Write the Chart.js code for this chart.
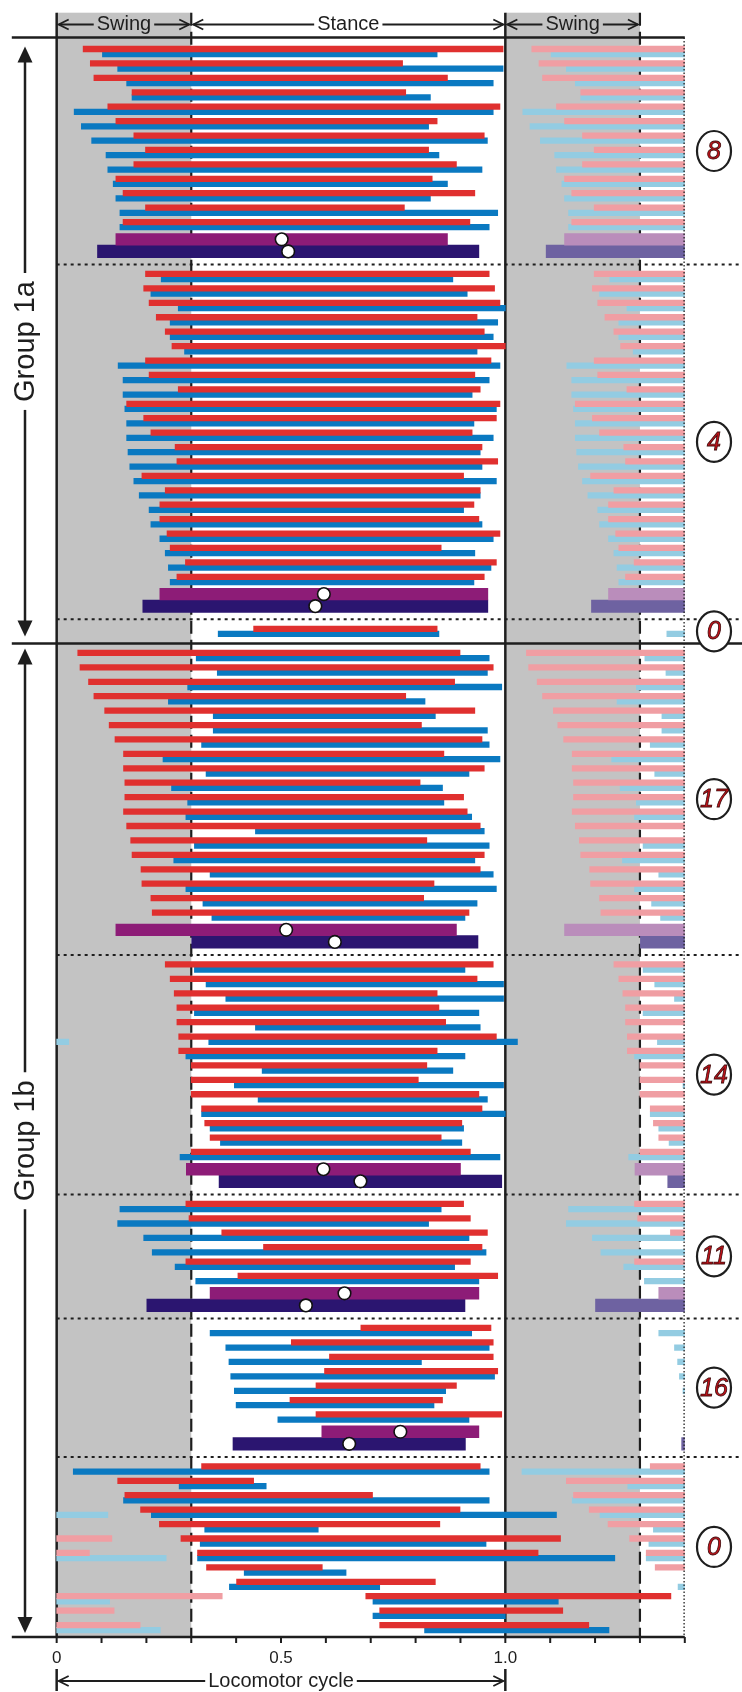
<!DOCTYPE html>
<html lang="en">
<head>
<meta charset="UTF-8">
<title>Locomotor cycle</title>
<script src="https://cdn.jsdelivr.net/npm/chart.js"></script>
<style>
  body { margin: 0; background: #fff; }
  #wrap { width: 742px; height: 1692px; }
</style>
</head>
<body>
<div id="wrap"><canvas id="cycleChart" width="742" height="1692"></canvas></div>
<script>
// Bar rows per section, [onset, offset] in fractions of the locomotor cycle
const red8 = [[0.059,0.995],[0.075,0.771],[0.083,0.871],[0.168,0.778],[0.114,0.988],[0.132,0.848],[0.172,0.953],[0.198,0.829],[0.172,0.891],[0.132,0.837],[0.148,0.932],[0.198,0.775],[0.148,0.921]];
const blue8 = [[0.102,0.848],[0.136,0.995],[0.156,0.973],[0.168,0.833],[0.039,0.973],[0.055,0.829],[0.078,0.960],[0.110,0.852],[0.114,0.948],[0.126,0.871],[0.132,0.833],[0.141,0.983],[0.141,0.964]];

const red4 = [[0.198,0.964],[0.194,0.976],[0.206,0.988],[0.222,0.937],[0.242,0.953],[0.257,1.0],[0.198,0.968],[0.206,0.932],[0.271,0.944],[0.156,0.988],[0.194,0.980],[0.210,0.926],[0.264,0.948],[0.268,0.983],[0.190,0.907],[0.242,0.944],[0.230,0.930],[0.230,0.941],[0.246,0.988],[0.253,0.857],[0.287,0.980],[0.268,0.953]];
const blue4 = [[0.233,0.883],[0.210,0.915],[0.271,1.0],[0.253,0.983],[0.253,0.973],[0.285,0.937],[0.137,0.988],[0.148,0.964],[0.148,0.926],[0.152,0.980],[0.156,0.930],[0.156,0.973],[0.159,0.944],[0.163,0.948],[0.172,0.980],[0.184,0.944],[0.206,0.907],[0.210,0.948],[0.230,0.973],[0.242,0.932],[0.249,0.968],[0.253,0.930]];

const red0a = [[0.439,0.848]];
const blue0a = [[0.360,0.852]];

const red17 = [[0.047,0.899],[0.052,0.973],[0.071,0.887],[0.083,0.778],[0.107,0.932],[0.117,0.813],[0.130,0.948],[0.149,0.863],[0.149,0.953],[0.152,0.810],[0.152,0.907],[0.149,0.915],[0.156,0.944],[0.165,0.825],[0.168,0.953],[0.188,0.944],[0.190,0.841],[0.210,0.818],[0.213,0.919]];
const blue17 = [[0.311,0.964],[0.358,0.960],[0.292,0.992],[0.249,0.821],[0.349,0.844],[0.349,0.960],[0.323,0.964],[0.237,0.988],[0.333,0.919],[0.256,0.860],[0.292,0.863],[0.288,0.925],[0.443,0.953],[0.307,0.964],[0.261,0.932],[0.342,0.973],[0.288,0.980],[0.326,0.937],[0.346,0.910]];

const red14 = [[0.242,0.973],[0.253,0.937],[0.262,0.848],[0.268,0.852],[0.268,0.867],[0.272,0.980],[0.272,0.848],[0.300,0.825],[0.300,0.806],[0.300,0.941],[0.323,0.948],[0.330,0.903],[0.342,0.857],[0.300,0.922]];
const blue14 = [[0.307,0.910],[0.333,0.996],[0.377,0.996],[0.307,0.941],[0.443,0.944],[0.339,1.027],[0.288,0.910],[0.458,0.883],[0.396,0.996],[0.449,0.960],[0.323,1.0],[0.342,0.907],[0.365,0.903],[0.275,0.988]];

const red11 = [[0.288,0.907],[0.295,0.922],[0.368,0.960],[0.461,0.948],[0.288,0.922],[0.404,0.983]];
const blue11 = [[0.141,0.857],[0.136,0.829],[0.194,0.919],[0.213,0.957],[0.264,0.887],[0.310,0.941]];

const red16 = [[0.678,0.968],[0.523,0.973],[0.608,0.973],[0.597,0.983],[0.578,0.891],[0.520,0.860],[0.578,0.992]];
const blue16 = [[0.342,0.925],[0.377,0.964],[0.384,0.813],[0.388,0.976],[0.396,0.867],[0.400,0.841],[0.493,0.919]];

const red0b = [[0.323,0.944],[0.136,0.439],[0.152,0.704],[0.187,0.899],[0.229,0.854],[0.277,1.123],[0.314,1.073],[0.334,0.592],[0.401,0.844],[0.689,1.369],[0.720,1.128],[0.720,1.186]];
const blue0b = [[0.037,0.964],[0.273,0.467],[0.149,0.964],[0.211,1.114],[0.330,0.583],[0.320,0.957],[0.314,1.244],[0.418,0.645],[0.385,0.720],[0.705,1.118],[0.705,1.0],[0.820,1.231]];

// Section means (null where a section has none)
const meanRed = [[0.132,0.871],[0.230,0.961],null,[0.132,0.891],[0.289,0.900],[0.342,0.941],[0.591,0.941],null];
const meanBlue = [[0.091,0.941],[0.192,0.961],null,[0.301,0.939],[0.362,0.992],[0.201,0.910],[0.393,0.911],null];

const sectionLabels = ['8', '4', '0', '17', '14', '11', '16', '0'];
const redRows = [red8, red4, red0a, red17, red14, red11, red16, red0b];
const blueRows = [blue8, blue4, blue0a, blue17, blue14, blue11, blue16, blue0b];

const tickValues = [0, 0.5, 1.0];
const tickLabels = ['0', '0.5', '1.0'];
const phases = [['Swing', 0, 0.3], ['Stance', 0.3, 1.0], ['Swing', 1.0, 1.3]];
const groupNames = ['Group 1a', 'Group 1b'];

// colours
const RED = '#e0302f', BLUE = '#0a79c1', PINK = '#f09ea3', SKY = '#93cce2';
const PLUM = '#8d1c77', INDIGO = '#2b1570', LILAC = '#ba8dbb', SLATE = '#6e62a1';
const GRAY = '#c3c3c3', INK = '#1e1e1e';

// layout (canvas pixels)
const W = 742, H = 1692;
const AREA = { left: 11.8, right: 684.8, top: 12, bottom: 1637 };
const TOP_RULE = 37.5;
const PAIR = 14.42, SPLIT = 5.2, THIN = 5.6;
const GROUP_SPLIT = 2; // index of the last section of group 1a
const FONT = '"Liberation Sans", Arial, sans-serif';

// Row positions on the y scale, plus the wrapped copies of each bar one cycle
// later (right panel) or earlier (left edge)
const sets = { red: [], blue: [], pink: [], sky: [], plum: [], indigo: [], lilac: [], slate: [], dots: [] };
function place(main, pale, bar, y) {
  main.push({ x: bar, y });
  if (bar[0] + 1 < 1.4) pale.push({ x: [bar[0] + 1, bar[1] + 1], y });
  if (bar[1] > 1) pale.push({ x: [Math.max(0, bar[0] - 1), bar[1] - 1], y });
}

const sections = [];
let cursor = TOP_RULE;
sectionLabels.forEach((label, k) => {
  const first = cursor + (k === 0 ? 11.5 : 9.5);
  redRows[k].forEach((b, i) => place(sets.red, sets.pink, b, first + i * PAIR));
  blueRows[k].forEach((b, i) => place(sets.blue, sets.sky, b, first + i * PAIR + SPLIT));
  const last = first + (redRows[k].length - 1) * PAIR;
  let end = last + SPLIT + 9.5;
  if (meanRed[k]) {
    const yr = last + 17.3, yb = last + 29.4;
    place(sets.plum, sets.lilac, meanRed[k], yr);
    place(sets.indigo, sets.slate, meanBlue[k], yb);
    sets.dots.push({ x: (meanRed[k][0] + meanRed[k][1]) / 2, y: yr });
    sets.dots.push({ x: (meanBlue[k][0] + meanBlue[k][1]) / 2, y: yb });
    end = last + 42.45;
  }
  if (k === sectionLabels.length - 1) end = AREA.bottom;
  sections.push({ label, top: cursor, bottom: end });
  cursor = end;
});

function line(ctx, x0, y0, x1, y1) {
  ctx.beginPath(); ctx.moveTo(x0, y0); ctx.lineTo(x1, y1); ctx.stroke();
}
function chevron(ctx, tx, ty, dir) {
  ctx.beginPath();
  ctx.moveTo(tx - dir * 10, ty - 5); ctx.lineTo(tx, ty); ctx.lineTo(tx - dir * 10, ty + 5);
  ctx.stroke();
}
function spanArrow(ctx, x0, x1, y, text) {
  const mid = (x0 + x1) / 2;
  const w = ctx.measureText(text).width;
  ctx.fillText(text, mid, y);
  line(ctx, x0 + 2, y, mid - w / 2 - 3, y);
  line(ctx, mid + w / 2 + 3, y, x1 - 2, y);
  chevron(ctx, x0 + 2, y, -1);
  chevron(ctx, x1 - 2, y, 1);
}
function triangle(ctx, x, tipY, dir) {
  ctx.beginPath();
  ctx.moveTo(x, tipY); ctx.lineTo(x - 7.5, tipY - dir * 16); ctx.lineTo(x + 7.5, tipY - dir * 16);
  ctx.closePath(); ctx.fill();
}

const frame = {
  id: 'frame',
  beforeDatasetsDraw(chart) {
    const { ctx, chartArea: a, scales: { x } } = chart;
    const px = v => x.getPixelForValue(v);
    ctx.save();
    ctx.fillStyle = GRAY;
    [[0, 0.3], [1.0, 1.3]].forEach(([s, e]) => ctx.fillRect(px(s), a.top + 0.7, px(e) - px(s), a.bottom - a.top));
    ctx.strokeStyle = INK;
    ctx.lineWidth = 2.2; ctx.setLineDash([13, 6]);
    [0.3, 1.3].forEach(v => line(ctx, px(v), a.top + 0.7, px(v), a.bottom));
    ctx.setLineDash([]); ctx.lineWidth = 2.5;
    [0, 1.0].forEach(v => line(ctx, px(v), a.top + 0.7, px(v), a.bottom));
    ctx.restore();
  },
  afterDatasetsDraw(chart) {
    const { ctx, chartArea: a, scales: { x } } = chart;
    const px = v => x.getPixelForValue(v);
    ctx.save();
    ctx.strokeStyle = INK; ctx.fillStyle = INK;

    // cut-off of the second cycle
    ctx.lineWidth = 1.3; ctx.setLineDash([1.5, 2]);
    line(ctx, a.right - 0.7, TOP_RULE, a.right - 0.7, a.bottom);

    // section dividers
    ctx.lineWidth = 2; ctx.setLineDash([3, 4]);
    sections.slice(0, -1).forEach((s, k) => {
      if (k !== GROUP_SPLIT) line(ctx, px(0), s.bottom, W, s.bottom);
    });
    ctx.setLineDash([]);

    ctx.lineWidth = 2.5;
    line(ctx, a.left, TOP_RULE, a.right, TOP_RULE);
    line(ctx, a.left, sections[GROUP_SPLIT].bottom, W, sections[GROUP_SPLIT].bottom);
    line(ctx, a.left, a.bottom, a.right, a.bottom);

    // ticks every 0.1
    ctx.lineWidth = 2;
    for (let i = 0; i <= 14; i++) line(ctx, px(i / 10), a.bottom, px(i / 10), a.bottom + 6);
    ctx.textAlign = 'center'; ctx.textBaseline = 'middle';
    ctx.font = '17px ' + FONT;
    tickValues.forEach((v, i) => ctx.fillText(tickLabels[i], px(v), 1658));

    // phase header
    ctx.font = '20px ' + FONT; ctx.lineWidth = 1.8;
    phases.forEach(([name, s, e]) => spanArrow(ctx, px(s), px(e), 24.5, name));

    // cycle length arrow
    ctx.font = '20px ' + FONT;
    spanArrow(ctx, px(0), px(1), 1681, 'Locomotor cycle');
    ctx.lineWidth = 2.5;
    [0, 1].forEach(v => line(ctx, px(v), 1669, px(v), 1691));

    // group brackets
    const groups = [
      [groupNames[0], TOP_RULE + 9, sections[GROUP_SPLIT].bottom - 7],
      [groupNames[1], sections[GROUP_SPLIT].bottom + 5, a.bottom - 4]
    ];
    ctx.font = '29px ' + FONT;
    groups.forEach(([text, y0, y1]) => {
      const gx = 25, mid = (y0 + y1) / 2;
      const w = ctx.measureText(text).width;
      ctx.lineWidth = 2.5;
      line(ctx, gx, y0 + 10, gx, mid - w / 2 - 8);
      line(ctx, gx, mid + w / 2 + 8, gx, y1 - 10);
      triangle(ctx, gx, y0, -1);
      triangle(ctx, gx, y1, 1);
      ctx.save();
      ctx.translate(gx, mid); ctx.rotate(-Math.PI / 2);
      ctx.fillText(text, 0, 1);
      ctx.restore();
    });

    // circled section labels
    ctx.font = 'italic 25px ' + FONT;
    sections.forEach(s => {
      const cy = (s.top + s.bottom) / 2, cx = 714;
      ctx.beginPath(); ctx.ellipse(cx, cy, 17, 20, 0, 0, Math.PI * 2);
      ctx.fillStyle = '#fff'; ctx.fill();
      ctx.lineWidth = 2.2; ctx.strokeStyle = INK; ctx.stroke();
      ctx.fillStyle = '#c4121a'; ctx.fillText(s.label, cx, cy + 1);
      ctx.lineWidth = 0.8; ctx.strokeStyle = '#3b0a0a'; ctx.strokeText(s.label, cx, cy + 1);
    });
    ctx.restore();
  }
};

const bars = (data, color, thickness) => ({
  type: 'bar', data, backgroundColor: color, barThickness: thickness,
  grouped: false, borderWidth: 0, clip: 0, order: 1
});

new Chart(document.getElementById('cycleChart'), {
  type: 'bar',
  data: {
    datasets: [
      {
        type: 'scatter', indexAxis: 'x', data: sets.dots, order: 0,
        pointRadius: 6.3, pointBackgroundColor: '#fff', pointBorderColor: '#111', pointBorderWidth: 1.6
      },
      bars(sets.pink, PINK, THIN),
      bars(sets.sky, SKY, THIN),
      bars(sets.lilac, LILAC, 11.7),
      bars(sets.slate, SLATE, 12.5),
      bars(sets.red, RED, THIN),
      bars(sets.blue, BLUE, THIN),
      bars(sets.plum, PLUM, 11.7),
      bars(sets.indigo, INDIGO, 12.5)
    ]
  },
  options: {
    indexAxis: 'y',
    responsive: false,
    devicePixelRatio: 1,
    animation: false,
    layout: { padding: { left: AREA.left, right: W - AREA.right, top: AREA.top, bottom: H - AREA.bottom } },
    plugins: { legend: { display: false }, tooltip: { enabled: false } },
    events: [],
    scales: {
      x: { type: 'linear', min: -0.1, max: 1.4, display: false },
      y: { type: 'linear', min: AREA.top, max: AREA.bottom, reverse: true, offset: false, display: false }
    }
  },
  plugins: [frame]
});
</script>
</body>
</html>
